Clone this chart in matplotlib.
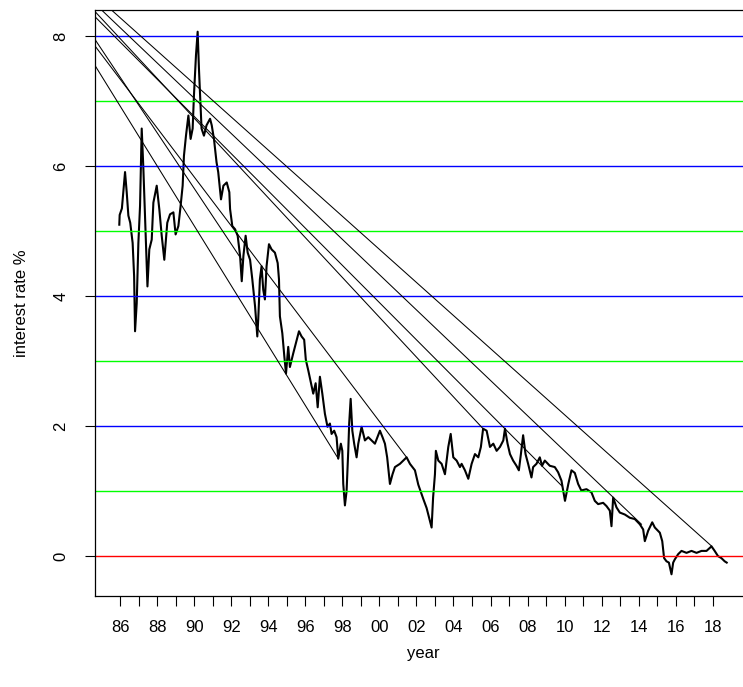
import numpy as np
import matplotlib
matplotlib.use('Agg')
import matplotlib.pyplot as plt

plt.rcParams['font.family'] = ['Liberation Sans', 'DejaVu Sans']

# series (decimal year, %)
years = [1985.96, 1985.98, 1986.10, 1986.27, 1986.36, 1986.45, 1986.55, 1986.68, 1986.76, 1986.81,
         1986.90, 1986.99, 1987.08, 1987.17, 1987.26, 1987.35, 1987.48, 1987.58, 1987.71, 1987.80,
         1987.98, 1988.12, 1988.25, 1988.39, 1988.55, 1988.70, 1988.88, 1989.00, 1989.15, 1989.27,
         1989.38, 1989.45, 1989.56, 1989.69, 1989.81, 1989.92, 1989.99, 1990.10, 1990.19, 1990.26,
         1990.32, 1990.40, 1990.53, 1990.67, 1990.86, 1990.95, 1991.07, 1991.21, 1991.30, 1991.45,
         1991.58, 1991.76, 1991.90, 1991.94, 1992.06, 1992.21, 1992.35, 1992.48, 1992.57, 1992.66,
         1992.78, 1992.89, 1993.02, 1993.14, 1993.29, 1993.41, 1993.46, 1993.55, 1993.64, 1993.73,
         1993.82, 1993.91, 1994.04, 1994.18, 1994.36, 1994.51, 1994.58, 1994.63, 1994.76, 1994.87,
         1994.96, 1995.08, 1995.17, 1995.35, 1995.54, 1995.66, 1995.80, 1995.94, 1996.03, 1996.16,
         1996.31, 1996.43, 1996.56, 1996.67, 1996.79, 1996.92, 1997.06, 1997.20, 1997.33, 1997.42,
         1997.56, 1997.69, 1997.78, 1997.92, 1998.00, 1998.05, 1998.14, 1998.23, 1998.32, 1998.37,
         1998.45, 1998.54, 1998.64, 1998.77, 1998.86, 1999.04, 1999.22, 1999.40, 1999.58, 1999.76,
         2000.03, 2000.17, 2000.30, 2000.42, 2000.57, 2000.71, 2000.84, 2001.11, 2001.29, 2001.47,
         2001.65, 2001.92, 2002.10, 2002.22, 2002.37, 2002.55, 2002.73, 2002.82, 2002.90, 2003.00,
         2003.05, 2003.18, 2003.36, 2003.54, 2003.72, 2003.85, 2003.99, 2004.17, 2004.35, 2004.44,
         2004.62, 2004.80, 2004.98, 2005.16, 2005.34, 2005.48, 2005.60, 2005.79, 2005.97, 2006.15,
         2006.33, 2006.51, 2006.69, 2006.78, 2006.92, 2007.05, 2007.22, 2007.40, 2007.53, 2007.64,
         2007.76, 2007.89, 2008.03, 2008.21, 2008.30, 2008.48, 2008.66, 2008.78, 2008.93, 2009.20,
         2009.47, 2009.65, 2009.83, 2010.02, 2010.20, 2010.37, 2010.55, 2010.73, 2010.90, 2011.18,
         2011.45, 2011.63, 2011.81, 2012.08, 2012.26, 2012.44, 2012.53, 2012.62, 2012.80, 2012.98,
         2013.25, 2013.52, 2013.79, 2014.06, 2014.24, 2014.33, 2014.51, 2014.73, 2014.87, 2015.14,
         2015.27, 2015.37, 2015.50, 2015.63, 2015.77, 2015.86, 2015.95, 2016.13, 2016.31, 2016.58,
         2016.85, 2017.12, 2017.39, 2017.66, 2017.93, 2018.10, 2018.28, 2018.46, 2018.64, 2018.75]
rates = [5.10, 5.25, 5.35, 5.91, 5.60, 5.24, 5.13, 4.82, 4.31, 3.46,
         3.89, 4.82, 5.39, 6.58, 5.96, 5.23, 4.15, 4.72, 4.87, 5.44,
         5.70, 5.34, 4.93, 4.56, 5.13, 5.26, 5.29, 4.95, 5.08, 5.39,
         5.70, 6.16, 6.47, 6.78, 6.42, 6.58, 7.09, 7.71, 8.07, 7.50,
         7.09, 6.58, 6.47, 6.63, 6.73, 6.63, 6.42, 6.06, 5.91, 5.49,
         5.70, 5.75, 5.60, 5.34, 5.08, 5.03, 4.93, 4.62, 4.23, 4.62,
         4.93, 4.67, 4.56, 4.26, 3.84, 3.38, 3.64, 4.26, 4.46, 4.10,
         3.95, 4.46, 4.80, 4.72, 4.67, 4.51, 4.26, 3.69, 3.43, 3.07,
         2.81, 3.22, 2.91, 3.12, 3.33, 3.46, 3.38, 3.33, 3.02, 2.86,
         2.66, 2.50, 2.66, 2.29, 2.76, 2.50, 2.19, 1.99, 2.04, 1.88,
         1.93, 1.83, 1.50, 1.73, 1.62, 1.11, 0.78, 1.00, 1.62, 2.04,
         2.42, 1.93, 1.73, 1.52, 1.73, 1.99, 1.78, 1.83, 1.78, 1.73,
         1.93, 1.83, 1.73, 1.52, 1.11, 1.26, 1.37, 1.42, 1.47, 1.52,
         1.42, 1.32, 1.10, 1.00, 0.88, 0.74, 0.54, 0.44, 0.90, 1.26,
         1.62, 1.47, 1.42, 1.26, 1.68, 1.88, 1.52, 1.47, 1.37, 1.42,
         1.32, 1.19, 1.42, 1.57, 1.52, 1.68, 1.96, 1.93, 1.68, 1.73,
         1.62, 1.68, 1.78, 1.96, 1.73, 1.57, 1.47, 1.39, 1.32, 1.57,
         1.86, 1.57, 1.42, 1.21, 1.37, 1.42, 1.52, 1.39, 1.47, 1.39,
         1.37, 1.29, 1.16, 0.85, 1.11, 1.32, 1.28, 1.11, 1.01, 1.03,
         0.98, 0.85, 0.80, 0.82, 0.77, 0.70, 0.46, 0.90, 0.75, 0.67,
         0.64, 0.59, 0.57, 0.49, 0.41, 0.23, 0.39, 0.52, 0.44, 0.36,
         0.23, -0.03, -0.08, -0.10, -0.28, -0.10, -0.05, 0.03, 0.08, 0.05,
         0.08, 0.05, 0.08, 0.08, 0.15, 0.08, 0.00, -0.03, -0.08, -0.10]

# trend segments: start (year, %) -> end (year, %)
seg_x0 = [1984.65, 1984.65, 1984.65, 1984.65, 1984.65, 1984.65, 1984.65]
seg_y0 = [7.55, 7.85, 7.95, 8.38, 8.30, 8.50, 8.63]
seg_x1 = [1997.78, 2001.47, 1992.64, 2005.60, 2009.85, 2014.15, 2017.93]
seg_y1 = [1.50, 1.52, 4.53, 1.96, 1.08, 0.49, 0.155]

blue_levels = [2, 4, 6, 8]
green_levels = [1, 3, 5, 7]
red_levels = [0]

tick_years = list(range(1986, 2019))
y_ticks = [0, 2, 4, 6, 8]

fig = plt.figure(figsize=(7.43, 6.87), dpi=100)
ax = fig.add_axes([95 / 743, 91 / 687, 656 / 743, 586 / 687])

ax.plot(years, rates, color='black', lw=1.5)
for lv in blue_levels:
    ax.axhline(lv, color='#0000ff', lw=1)
for lv in green_levels:
    ax.axhline(lv, color='#00ff00', lw=1)
for lv in red_levels:
    ax.axhline(lv, color='#ff0000', lw=1)
for x0, y0, x1, y1 in zip(seg_x0, seg_y0, seg_x1, seg_y1):
    ax.plot([x0, x1], [y0, y1], color='black', lw=0.75)

# R style 4% padding
xr = max(years) - min(years)
yr = max(rates) - min(rates)
ax.set_xlim(min(years) - 0.04 * xr, max(years) + 0.04 * xr)
ax.set_ylim(min(rates) - 0.04 * yr, max(rates) + 0.04 * yr)

ax.set_xticks(tick_years)
ax.set_xticklabels([str(y)[2:] if y % 2 == 0 else '' for y in tick_years])
ax.set_yticks(y_ticks)
ax.set_yticklabels([str(v) for v in y_ticks], rotation=90, va='center')
ax.tick_params(axis='both', length=7, width=0.8, labelsize=12, pad=10)
ax.tick_params(axis='y', pad=12)
for s in ax.spines.values():
    s.set_linewidth(0.9)

ax.set_xlabel('year', fontsize=12, labelpad=8)
ax.set_ylabel('interest rate %', fontsize=12, labelpad=18)

fig.savefig('out.png', dpi=100)
